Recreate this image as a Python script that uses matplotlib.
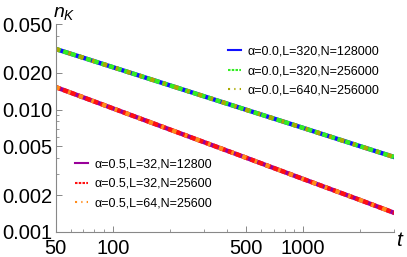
"""Recreate log-log plot of n_K versus t."""

import matplotlib
matplotlib.use("Agg")
import matplotlib.pyplot as plt
from matplotlib.ticker import LogLocator, NullFormatter

t = [50, 100, 200, 500, 1000, 2000, 3000]

# alpha = 0.0 group (three runs overlap)
n_a0_L320_N128k = [0.0313, 0.0222, 0.01574, 0.00998, 0.00708, 0.00501, 0.0041]
n_a0_L320_N256k = [0.0313, 0.0222, 0.01574, 0.00998, 0.00708, 0.00501, 0.0041]
n_a0_L640_N256k = [0.0313, 0.0222, 0.01574, 0.00998, 0.00708, 0.00501, 0.0041]

# alpha = 0.5 group
n_a5_L32_N12800 = [0.01528, 0.01023, 0.00686, 0.00405, 0.00271, 0.00182, 0.001436]
n_a5_L32_N25600 = [0.01528, 0.01023, 0.00686, 0.00405, 0.00271, 0.00182, 0.001436]
n_a5_L64_N25600 = [0.01528, 0.01023, 0.00686, 0.00405, 0.00271, 0.00182, 0.001436]

labels_a0 = ["α=0.0,L=320,N=128000", "α=0.0,L=320,N=256000", "α=0.0,L=640,N=256000"]
labels_a5 = ["α=0.5,L=32,N=12800", "α=0.5,L=32,N=25600", "α=0.5,L=64,N=25600"]

yticks = [0.001, 0.002, 0.005, 0.010, 0.020, 0.050]
ytick_labels = ["0.001", "0.002", "0.005", "0.010", "0.020", "0.050"]
xticks = [50, 100, 500, 1000]
xtick_labels = ["50", "100", "500", "1000"]

plt.rcParams["font.family"] = ["Liberation Sans", "DejaVu Sans"]
plt.rcParams["mathtext.fontset"] = "custom"
plt.rcParams["mathtext.it"] = "Liberation Sans:italic"
plt.rcParams["mathtext.rm"] = "Liberation Sans"

fig = plt.figure(figsize=(4.07, 2.57), dpi=100)
ax = fig.add_axes([0.1364, 0.0973, 0.8316, 0.8093])

lw = 3.2
l1, = ax.plot(t, n_a0_L320_N128k, color="#1010ff", lw=lw, label=labels_a0[0])
l2, = ax.plot(t, n_a0_L320_N256k, color="#33ee22", lw=lw, dashes=(1.2, 0.6), label=labels_a0[1])
l3, = ax.plot(t, n_a0_L640_N256k, color="#aaaa00", lw=lw, dashes=(1.0, 2.0, 0.6, 2.0), label=labels_a0[2])

l4, = ax.plot(t, n_a5_L32_N12800, color="#990099", lw=lw, label=labels_a5[0])
l5, = ax.plot(t, n_a5_L32_N25600, color="#ff1010", lw=lw, dashes=(1.2, 0.6), label=labels_a5[1])
l6, = ax.plot(t, n_a5_L64_N25600, color="#ff8c1a", lw=lw, dashes=(1.0, 2.0, 0.6, 2.0), label=labels_a5[2])

ax.set_xscale("log")
ax.set_yscale("log")
ax.set_xlim(50, 3000)
ax.set_ylim(0.001, 0.05)

ax.set_xticks(xticks)
ax.set_xticklabels(xtick_labels)
ax.set_yticks(yticks)
ax.set_yticklabels(ytick_labels)
ax.xaxis.set_minor_locator(LogLocator(base=10, subs=range(1, 10), numticks=20))
ax.yaxis.set_minor_locator(LogLocator(base=10, subs=range(1, 10), numticks=20))
ax.xaxis.set_minor_formatter(NullFormatter())
ax.yaxis.set_minor_formatter(NullFormatter())

ax.tick_params(which="major", direction="in", length=4, width=0.7, color="#888888",
               labelsize=14.5)
ax.tick_params(axis="y", which="major", pad=2)
ax.tick_params(axis="x", which="major", pad=5)
ax.tick_params(which="minor", direction="in", length=2, width=0.6, color="#888888")

for side in ["top", "right"]:
    ax.spines[side].set_visible(False)
for side in ["left", "bottom"]:
    ax.spines[side].set_color("#888888")
    ax.spines[side].set_linewidth(0.8)

ax.text(1.005, -0.04, "$t$", transform=ax.transAxes, fontsize=15, ha="left", va="center")
ax.text(-0.008, 1.01, "$n_K$", transform=ax.transAxes, fontsize=14, ha="left", va="bottom")

leg_kw = dict(frameon=False, fontsize=9, handlelength=1.0, handletextpad=0.55,
              labelspacing=0.6, borderpad=0, borderaxespad=0, loc="center left")
leg1 = ax.legend(handles=[l1, l2, l3], bbox_to_anchor=(0.51, 0.774), **leg_kw)
for line in leg1.get_lines():
    line.set_linewidth(1.5)
ax.add_artist(leg1)
leg2 = ax.legend(handles=[l4, l5, l6], bbox_to_anchor=(0.058, 0.231), **leg_kw)
for line in leg2.get_lines():
    line.set_linewidth(1.5)

fig.savefig("out.png", dpi=100)
